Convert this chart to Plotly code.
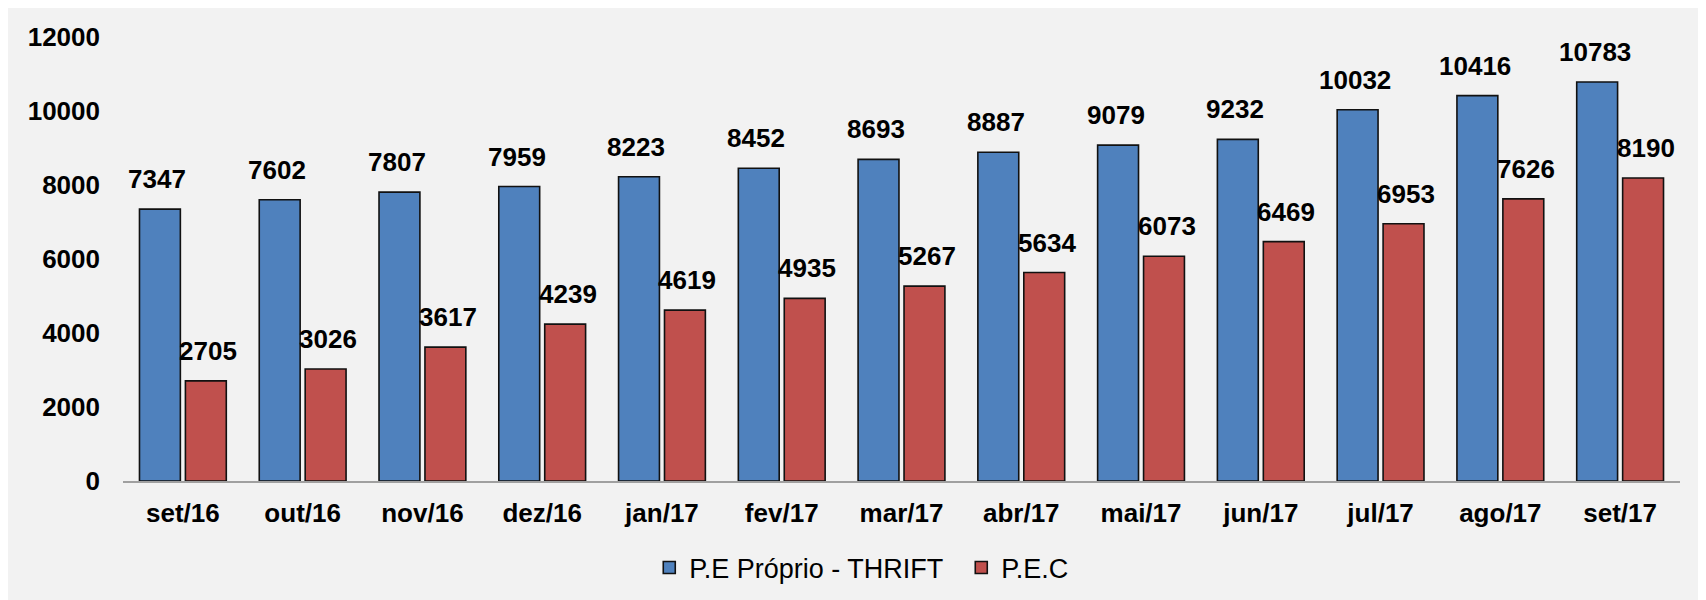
import plotly.graph_objects as go

categories = ["set/16", "out/16", "nov/16", "dez/16", "jan/17", "fev/17", "mar/17",
              "abr/17", "mai/17", "jun/17", "jul/17", "ago/17", "set/17"]
thrift = [7347, 7602, 7807, 7959, 8223, 8452, 8693, 8887, 9079, 9232, 10032, 10416, 10783]
pec = [2705, 3026, 3617, 4239, 4619, 4935, 5267, 5634, 6073, 6469, 6953, 7626, 8190]
y_ticks = [0, 2000, 4000, 6000, 8000, 10000, 12000]

FONT = "Liberation Sans, Arial, sans-serif"
BLUE = "#4f81bd"
RED = "#c0504d"

fig = go.Figure()
fig.add_trace(go.Bar(x=categories, y=thrift, name="P.E Próprio - THRIFT",
                     marker=dict(color=BLUE, line=dict(color="#111111", width=1.6))))
fig.add_trace(go.Bar(x=categories, y=pec, name="P.E.C",
                     marker=dict(color=RED, line=dict(color="#111111", width=1.6))))

annotations = []
for c, v in zip(categories, thrift):
    annotations.append(dict(x=c, y=v, text=f"<b>{v}</b>", showarrow=False, xshift=-25.5,
                            yshift=13, yanchor="bottom", font=dict(family=FONT, size=26, color="#000")))
for c, v in zip(categories, pec):
    annotations.append(dict(x=c, y=v, text=f"<b>{v}</b>", showarrow=False, xshift=25.5,
                            yshift=13, yanchor="bottom", font=dict(family=FONT, size=26, color="#000")))

fig.update_layout(
    width=1706, height=600,
    paper_bgcolor="#f2f2f2", plot_bgcolor="#f2f2f2",
    margin=dict(l=115, r=34, t=29, b=127),
    barmode="group", bargap=0.233, bargroupgap=0.11,
    font=dict(family=FONT, color="#000"),
    annotations=annotations,
    showlegend=True,
    legend=dict(orientation="h", x=0.338, xanchor="left", y=-0.196, yanchor="middle",
                font=dict(family=FONT, size=27, color="#000"), bgcolor="rgba(0,0,0,0)",
                itemwidth=30, entrywidth=267, entrywidthmode="pixels", traceorder="normal"),
    xaxis=dict(showgrid=False, showline=True, linecolor="#a0a0a0", linewidth=2,
               tickfont=dict(family=FONT, size=26, color="#000"), ticks="",
               ticklabelstandoff=8,
               tickvals=categories, ticktext=[f"<b>{c}</b>" for c in categories]),
    yaxis=dict(range=[0, 12000], showgrid=False, zeroline=False, showline=False,
               tickvals=y_ticks, ticktext=[f"<b>{t}</b>" for t in y_ticks],
               tickfont=dict(family=FONT, size=26, color="#000"), ticks="",
               ticklabelstandoff=22),
)

fig.write_html("out.html")
